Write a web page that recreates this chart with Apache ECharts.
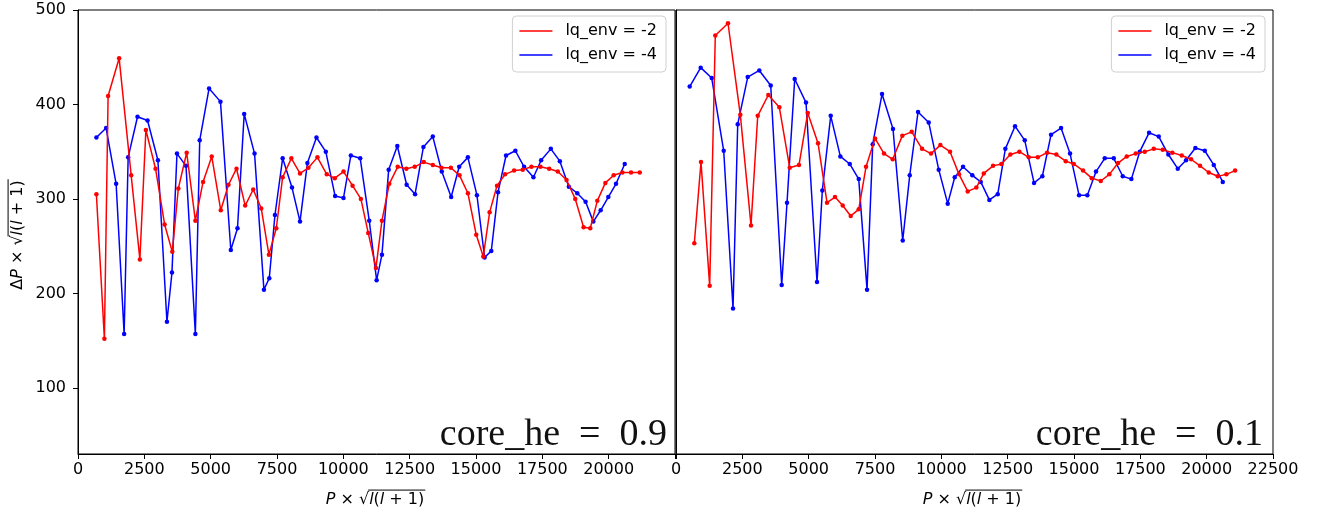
<!DOCTYPE html>
<html>
<head>
<meta charset="utf-8">
<script src="https://cdn.jsdelivr.net/npm/echarts@6/dist/echarts.min.js"></script>
<style>
html,body{margin:0;padding:0;background:#fff;}
#c{width:1320px;height:515px;}
</style>
</head>
<body>
<div id="c"></div>
<script>
// ---- data ----
const seriesNames = ['lq_env = -2', 'lq_env = -4'];
const panelLabels = ['core_he\u2002=\u20020.9', 'core_he\u2002=\u20020.1'];
const xTicks = [0, 2500, 5000, 7500, 10000, 12500, 15000, 17500, 20000, 22500];
const yTicks = [100, 200, 300, 400, 500];

const leftRedX = [693,995,1134,1550,2004,2332,2558,2923,3264,3554,3781,4096,4423,4713,5041,5381,5671,5974,6301,6604,6906,7195,7473,7713,8041,8367,8684,9024,9376,9679,10007,10347,10662,10938,11229,11456,11732,12049,12375,12692,13032,13372,13698,14053,14378,14695,15009,15274,15514,15792,16094,16435,16761,17089,17429,17758,18083,18412,18741,19055,19307,19572,19875,20189,20517,20843,21172];
const leftRedY = [305,152,409,449,325,236,373,332,273,244,311,349,277,318,345,288,315,332,293,310,290,241,269,323,343,327,333,344,326,322,329,314,300,264,227,277,316,334,332,334,339,336,333,333,325,306,262,239,286,314,326,330,331,334,334,332,329,320,300,270,269,298,317,325,328,328,328];

const leftBlueX = [693,1059,1437,1739,1890,2243,2621,3012,3352,3541,3730,4071,4423,4587,4940,5369,5759,6011,6264,6654,7007,7209,7423,7713,8065,8367,8646,8987,9339,9690,10007,10284,10636,10976,11255,11456,11709,12035,12386,12703,13018,13372,13710,14064,14367,14694,15035,15324,15577,15829,16132,16484,16812,17164,17455,17820,18160,18499,18817,19130,19421,19698,19987,20277,20605];
const leftBlueY = [365,375,316,157,344,387,383,341,170,222,348,335,157,362,417,403,246,269,390,348,204,216,283,343,312,276,338,365,350,303,301,346,343,277,214,241,331,356,315,305,355,366,329,302,334,344,304,238,245,307,346,351,334,323,341,353,340,313,306,297,276,288,302,316,337];

const rightRedX = [690,942,1270,1481,1960,2424,2827,3080,3480,3895,4286,4636,4965,5353,5692,5993,6283,6585,6887,7162,7501,7840,8168,8530,8884,9273,9612,9963,10328,10667,10995,11320,11599,11949,12263,12602,12941,13295,13634,13984,14335,14689,14990,15341,15669,16008,16333,16660,16988,17328,17667,18006,18345,18707,19061,19412,19751,20079,20419,20743,21071];
const rightRedY = [253,339,208,473,486,389,272,388,410,397,333,336,391,359,296,302,293,282,289,334,364,348,342,367,371,353,348,357,350,326,308,312,327,335,337,347,350,344,344,349,347,340,337,330,322,319,326,338,345,348,350,353,352,349,346,342,335,328,324,326,330];

const rightBlueX = [516,931,1346,1798,2149,2326,2703,3140,3570,3984,4184,4474,4900,5315,5515,5831,6194,6548,6887,7200,7414,7765,8179,8545,8809,9122,9525,9902,10241,10505,10818,11168,11485,11810,12126,12413,12778,13144,13494,13807,14135,14512,14851,15190,15503,15831,16159,16498,16837,17162,17478,17829,18194,18556,18911,19223,19574,19929,20268,20607];
const rightBlueY = [419,439,428,351,184,379,429,436,420,209,296,427,402,212,309,388,345,337,321,204,358,411,374,256,325,392,381,331,295,323,334,325,318,299,305,353,377,362,317,324,368,375,348,304,304,329,343,343,324,321,350,370,366,347,332,341,354,351,336,318];

// ---- chart ----
const zip = (xs, ys) => xs.map((x, i) => [x, ys[i]]);
const FONT = 'DejaVu Sans';
const chart = echarts.init(document.getElementById('c'), null, {renderer: 'canvas'});

const grids = [
  {left: 78, top: 10, width: 597, height: 444},
  {left: 676, top: 10, width: 597, height: 444}
];

function xAxis(idx) {
  return {
    type: 'value', gridIndex: idx, min: 0, max: 22500, interval: 2500,
    axisLine: {show: true, onZero: false, lineStyle: {color: '#000', width: 1}},
    axisTick: {show: true, inside: false, length: 5, customValues: xTicks, lineStyle: {color: '#000'}},
    axisLabel: {show: true, color: '#000', fontFamily: FONT, fontSize: 16, margin: 8,
      customValues: idx === 1 ? xTicks : xTicks.slice(0, -1),
      formatter: v => String(v)},
    splitLine: {show: false}
  };
}
function yAxis(idx) {
  return {
    type: 'value', gridIndex: idx, min: 30, max: 500,
    axisLine: {show: true, onZero: false, lineStyle: {color: '#000', width: 1}},
    axisTick: {show: idx === 0, inside: false, length: 5, customValues: yTicks, lineStyle: {color: '#000'}},
    axisLabel: {show: idx === 0, color: '#000', fontFamily: FONT, fontSize: 16, margin: 12, customValues: yTicks,
      formatter: v => String(v)},
    splitLine: {show: false}
  };
}

function lineSeries(name, color, idx, data) {
  return {
    name: name, type: 'line', xAxisIndex: idx, yAxisIndex: idx, data: data,
    color: color,
    lineStyle: {color: color, width: 1.5},
    itemStyle: {color: color},
    symbol: 'circle', symbolSize: 4.5, showSymbol: true,
    emphasis: {disabled: true}, animation: false, z: color === '#ff0000' ? 3 : 2
  };
}

function legend(rightPx) {
  return {
    orient: 'vertical', right: rightPx, top: 16,
    data: seriesNames.map(n => ({name: n, icon: 'rect'})),
    itemWidth: 33, itemHeight: 1.6, itemGap: 8,
    padding: [7, 9, 9, 7],
    backgroundColor: 'rgba(255,255,255,0.8)',
    borderColor: '#d0d0d0', borderWidth: 1, borderRadius: 4,
    textStyle: {fontFamily: FONT, fontSize: 16, color: '#000', padding: [0, 0, 0, 8]},
    selectedMode: false
  };
}

// measure helper for axis titles
const mctx = document.createElement('canvas').getContext('2d');
function tw(t, font) { mctx.font = font; return mctx.measureText(t).width; }

function mathTitle(pieces, overFrom, cx, cy, rotation) {
  const fs = 16;
  const norm = fs + 'px "' + FONT + '"';
  const ital = 'italic ' + fs + 'px "' + FONT + '"';
  let widths = pieces.map(p => tw(p.t, p.i ? ital : norm));
  let total = widths.reduce((a, b) => a + b, 0);
  let x = -total / 2;
  const children = [];
  let overStart = 0;
  pieces.forEach((p, k) => {
    if (k === overFrom) overStart = x;
    children.push({type: 'text', x: x, y: 0, style: {text: p.t, font: p.i ? ital : norm, fill: '#000', align: 'left', verticalAlign: 'middle'}});
    x += widths[k];
  });
  children.push({type: 'line', shape: {x1: overStart - 1, y1: -fs * 0.62, x2: x + 1, y2: -fs * 0.62}, style: {stroke: '#000', lineWidth: 1}});
  return {type: 'group', x: cx, y: cy, rotation: rotation, children: children, silent: true};
}

const xTitlePieces = [{t: 'P', i: true}, {t: ' × √', i: false}, {t: 'l', i: true}, {t: '(', i: false}, {t: 'l', i: true}, {t: ' + 1)', i: false}];
const yTitlePieces = [{t: 'Δ', i: false}, {t: 'P', i: true}, {t: ' × √', i: false}, {t: 'l', i: true}, {t: '(', i: false}, {t: 'l', i: true}, {t: ' + 1)', i: false}];

const option = {
  backgroundColor: '#fff',
  animation: false,
  grid: grids.map(g => Object.assign({show: true, borderColor: '#000', borderWidth: 1, backgroundColor: 'transparent'}, g)),
  xAxis: [xAxis(0), xAxis(1)],
  yAxis: [yAxis(0), yAxis(1)],
  legend: [legend(1320 - 666), legend(1320 - 1265)],
  series: [
    lineSeries(seriesNames[0], '#ff0000', 0, zip(leftRedX, leftRedY)),
    lineSeries(seriesNames[1], '#0000ff', 0, zip(leftBlueX, leftBlueY)),
    lineSeries(seriesNames[0], '#ff0000', 1, zip(rightRedX, rightRedY)),
    lineSeries(seriesNames[1], '#0000ff', 1, zip(rightBlueX, rightBlueY))
  ],
  graphic: [
    {type: 'text', x: 667, y: 454, style: {text: panelLabels[0], font: '38px "Liberation Serif"', fill: '#111', align: 'right', verticalAlign: 'bottom'}, silent: true},
    {type: 'text', x: 1263, y: 454, style: {text: panelLabels[1], font: '38px "Liberation Serif"', fill: '#111', align: 'right', verticalAlign: 'bottom'}, silent: true},
    mathTitle(xTitlePieces, 2, 375, 500, 0),
    mathTitle(xTitlePieces, 2, 972, 500, 0),
    mathTitle(yTitlePieces, 3, 18, 235, Math.PI / 2)
  ]
};
chart.setOption(option);
</script>
</body>
</html>
